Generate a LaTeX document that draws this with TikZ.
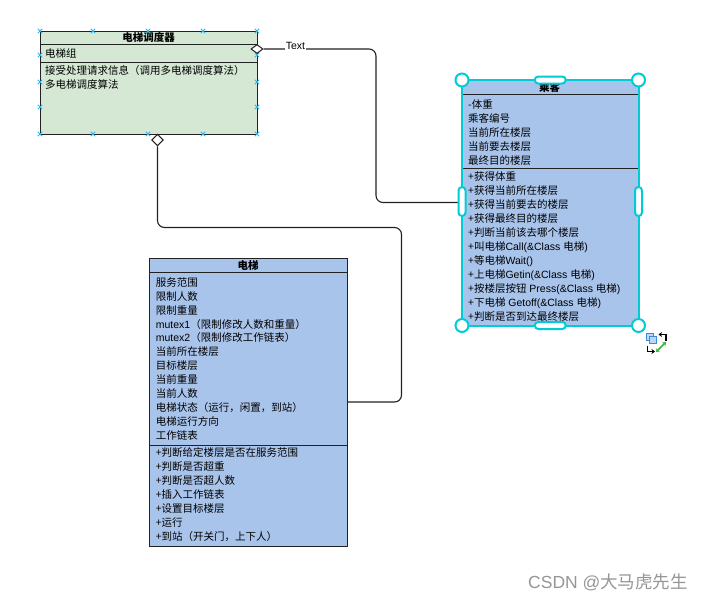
\documentclass[tikz,border=0pt]{standalone}
\usepackage{fontspec}
\setmainfont{Noto Sans CJK SC}
\newfontfamily\lat{Liberation Sans}
\usetikzlibrary{shapes.geometric,arrows.meta}
\definecolor{greenfill}{RGB}{213,232,212}
\definecolor{bluefill}{RGB}{169,196,235}
\definecolor{edgec}{RGB}{34,34,34}
\definecolor{selc}{RGB}{0,204,214}
\definecolor{markc}{RGB}{41,182,242}
\definecolor{wmc}{RGB}{150,150,150}
\definecolor{icoblue}{RGB}{60,140,220}
\definecolor{icogreen}{RGB}{60,180,60}
\begin{document}
\begin{tikzpicture}[x=1pt,y=-1pt,
  classbox/.style={draw=edgec, line width=1pt, anchor=north west, inner sep=0pt},
  member/.style={anchor=base west, inner sep=0pt, font=\fontsize{10.5}{12}\selectfont, text=black},
  ctitle/.style={anchor=base, inner sep=0pt, font=\fontsize{10.5}{12}\selectfont\bfseries},
  sepline/.style={draw=edgec, line width=1pt},
  conn/.style={draw=edgec, line width=1.1pt, rounded corners=7pt},
  aggr/.style={shape=diamond, draw=edgec, fill=white, line width=1pt, inner sep=0pt},
  cpmark/.style={draw=markc, line width=0.9pt},
  hcorner/.style={circle, draw=selc, fill=white, line width=2pt, minimum size=13pt, inner sep=0pt},
  hside/.style={rectangle, rounded corners=3.5pt, draw=selc, fill=white, line width=2pt, inner sep=0pt}
]
\fill[white] (0,0) rectangle (712,600);
\useasboundingbox (0,0) rectangle (712,600);

% ---------- 电梯调度器 ----------
\node[classbox, fill=greenfill, minimum width=217.2pt, minimum height=102.7pt] (ctrl) at (39.5,31) {};
\draw[sepline] (ctrl.west |- 0,44) -- (ctrl.east |- 0,44);
\draw[sepline] (ctrl.west |- 0,62.5) -- (ctrl.east |- 0,62.5);
\node[ctitle] (ctrl-t) at (148.5,41) {电梯调度器};
\node[member] (ctrl-a1) at (45,57.3) {电梯组};
\node[member] (ctrl-m1) at (45,74) {接受处理请求信息（调用多电梯调度算法）};
\node[member] (ctrl-m2) at (45,88) {多电梯调度算法};
\foreach \x in {40,93,148,203,257} {
  \foreach \y in {31,134} {
    \draw[cpmark] (\x-2.2,\y-2.2) -- (\x+2.2,\y+2.2) (\x-2.2,\y+2.2) -- (\x+2.2,\y-2.2);
  }
}
\foreach \x in {40,257} {
  \foreach \y in {55,82,107} {
    \draw[cpmark] (\x-2.2,\y-2.2) -- (\x+2.2,\y+2.2) (\x-2.2,\y+2.2) -- (\x+2.2,\y-2.2);
  }
}

% ---------- 乘客 ----------
\node[classbox, fill=bluefill, minimum width=175.5pt, minimum height=244.5pt] (pass) at (462,80) {};
\draw[sepline] (pass.west |- 0,94.3) -- (pass.east |- 0,94.3);
\draw[sepline] (pass.west |- 0,168.7) -- (pass.east |- 0,168.7);
\node[ctitle] (pass-t) at (549.5,91.5) {乘客};
\foreach \t [count=\i] in {{-体重},{乘客编号},{当前所在楼层},{当前要去楼层},{最终目的楼层}} {
  \node[member] (pass-a\i) at (468,108.3+14*\i-14) {\t};
}
\foreach \t [count=\i] in {{+获得体重},{+获得当前所在楼层},{+获得当前要去的楼层},{+获得最终目的楼层},{+判断当前该去哪个楼层},{+叫电梯{\lat Call(\&Class }电梯{\lat )}},{+等电梯{\lat Wait()}},{+上电梯{\lat Getin(\&Class }电梯{\lat )}},{+按楼层按钮{\lat\ Press(\&Class }电梯{\lat )}},{+下电梯{\lat\ Getoff(\&Class }电梯{\lat )}},{+判断是否到达最终楼层}} {
  \node[member] (pass-m\i) at (468,180+14*\i-14) {\t};
}
\draw[draw=selc, line width=2pt] (pass.north west) rectangle (pass.south east);

% ---------- 电梯 ----------
\node[classbox, fill=bluefill, minimum width=197.4pt, minimum height=287.4pt] (elev) at (149.3,258.3) {};
\draw[sepline] (elev.west |- 0,272.7) -- (elev.east |- 0,272.7);
\draw[sepline] (elev.west |- 0,445) -- (elev.east |- 0,445);
\node[ctitle] (elev-t) at (248,269) {电梯};
\foreach \t [count=\i] in {{服务范围},{限制人数},{限制重量},{{\lat mutex1}（限制修改人数和重量）},{{\lat mutex2}（限制修改工作链表）},{当前所在楼层},{目标楼层},{当前重量},{当前人数},{电梯状态（运行，闲置，到站）},{电梯运行方向},{工作链表}} {
  \node[member] (elev-a\i) at (155.7,286.3+13.9*\i-13.9) {\t};
}
\foreach \t [count=\i] in {{+判断给定楼层是否在服务范围},{+判断是否超重},{+判断是否超人数},{+插入工作链表},{+设置目标楼层},{+运行},{+到站（开关门，上下人）}} {
  \node[member] (elev-m\i) at (155.7,456.3+14*\i-14) {\t};
}

% ---------- connectors ----------
\node[aggr, minimum width=12pt, minimum height=9pt] (d1) at (257,49) {};
\node[aggr, minimum width=11.6pt, minimum height=11.7pt] (d2) at (157.5,140) {};
\draw[conn] (d1.east) -- (376,49) -- (376,202.5) -- (pass.west |- 0,202.5);
\draw[conn] (d2.south) -- (157.5,227.5) -- (401.5,227.5) -- (401.5,402) -- (elev.east |- 0,402);
\node[fill=white, inner sep=0.8pt, font=\lat\fontsize{10.5}{12}\selectfont] (lbl) at (295.5,46) {Text};

% ---------- selection handles ----------
\node[hcorner] (h-nw) at (pass.north west) {};
\node[hcorner] (h-ne) at (pass.north east) {};
\node[hcorner] (h-sw) at (pass.south west) {};
\node[hcorner] (h-se) at (pass.south east) {};
\node[hside, minimum width=31pt, minimum height=7pt] (h-n) at (pass.north) {};
\node[hside, minimum width=31pt, minimum height=7pt] (h-s) at (pass.south) {};
\node[hside, minimum width=7pt, minimum height=29pt] (h-w) at (pass.west |- 0,201.5) {};
\node[hside, minimum width=7pt, minimum height=29pt] (h-e) at (pass.east |- 0,201.5) {};

% ---------- small icons ----------
\draw[icoblue, fill=icoblue!35, line width=0.9pt] (646,333) rectangle (653,340);
\draw[icoblue, fill=icoblue!35, line width=0.9pt] (649,336) rectangle (656,343);
\draw[black, line width=1.2pt, -{Stealth[length=3.5pt,width=5pt]}] (666,341) -- (666,334.5) -- (658.5,334.5);
\draw[black, line width=1.2pt, -{Stealth[length=3.5pt,width=5pt]}] (647.5,345.5) -- (647.5,351.5) -- (655,351.5);
\draw[icogreen, line width=1.5pt, {Stealth[length=3.5pt,width=5pt]}-{Stealth[length=3.5pt,width=5pt]}] (656,352) -- (666,342);

% ---------- watermark ----------
\node[anchor=base west, inner sep=0pt, text=wmc, font=\fontsize{17.5}{19}\selectfont] (wm) at (528,588) {{\lat CSDN @}大马虎先生};
\end{tikzpicture}
\end{document}
